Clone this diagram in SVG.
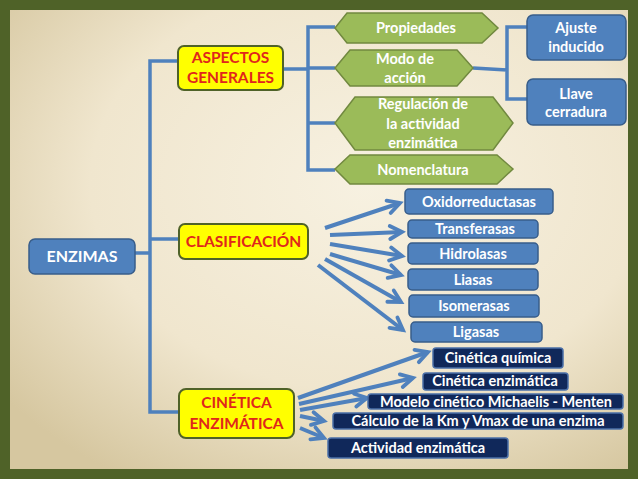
<svg xmlns="http://www.w3.org/2000/svg" width="638" height="479" viewBox="0 0 638 479">
<defs>
<radialGradient id="bg" cx="0.58" cy="0.38" r="0.75">
<stop offset="0" stop-color="#f7f1e1"/>
<stop offset="0.6" stop-color="#f0e6ce"/>
<stop offset="1" stop-color="#d6c7a0"/>
</radialGradient>
<marker id="ah" viewBox="0 0 16 16" refX="13" refY="8" markerWidth="16" markerHeight="16" markerUnits="userSpaceOnUse" orient="auto" overflow="visible">
<path d="M1,1.5 L13,8 L1,14.5" fill="none" stroke="#4f81bd" stroke-width="3.8" stroke-linecap="round" stroke-linejoin="miter"/>
</marker>
<style>
text{font-family:Lato,"Open Sans","Liberation Sans",sans-serif;font-weight:bold;text-anchor:middle}
.yb{fill:#ffff00;stroke:#4f6228;stroke-width:2}
.yt{fill:#e0261c;font-size:15.5px}
.hx{fill:#9bbb59;stroke:#71893f;stroke-width:1.5}
.wt{fill:#ffffff;font-size:14.5px}
.bb{fill:#4f81bd;stroke:#385d8a;stroke-width:1.5}
.nb{fill:#10285a;stroke:#4a6fa8;stroke-width:1.5}
.cn{fill:none;stroke:#4f81bd;stroke-width:3.5}
.ar{fill:none;stroke:#4f81bd;stroke-width:4;marker-end:url(#ah)}
</style>
</defs>
<rect x="0" y="0" width="638" height="479" fill="#4f6228"/>
<rect x="10" y="10" width="618" height="459" fill="url(#bg)"/>

<g id="connectors">
<path class="cn" d="M135,253 H150 M178,61 H150 V412 H179 M150,239 H179"/>
<path class="cn" d="M283,69 H308 M335,27 H308 V170 H335 M308,68 H335 M308,123 H335"/>
<path class="cn" d="M473,68 L507,70 M527,27 H507 V99 H527"/>
<line class="ar" x1="325" y1="228" x2="400" y2="203"/>
<line class="ar" x1="330" y1="235" x2="402" y2="232"/>
<line class="ar" x1="330" y1="244" x2="402" y2="256"/>
<line class="ar" x1="330" y1="254" x2="401" y2="275"/>
<line class="ar" x1="325" y1="259" x2="401" y2="302"/>
<line class="ar" x1="318" y1="265" x2="403" y2="330"/>
<line class="ar" x1="298" y1="398" x2="428" y2="352"/>
<line class="ar" x1="299" y1="404" x2="413" y2="378"/>
<line class="ar" x1="300" y1="410" x2="367" y2="398"/>
<line class="ar" x1="300" y1="416" x2="324" y2="421"/>
<line class="ar" x1="300" y1="428" x2="324" y2="438"/>
</g>

<g id="enzimas">
<rect class="bb" x="29" y="239" width="106" height="35" rx="6"/>
<text class="wt" x="82" y="262" style="font-size:16px">ENZIMAS</text>
</g>

<g id="aspectos">
<rect class="yb" x="178" y="46" width="105" height="44" rx="6"/>
<text class="yt" x="230.5" y="63">ASPECTOS</text>
<text class="yt" x="230.5" y="83">GENERALES</text>
</g>
<g id="clasificacion">
<rect class="yb" x="179" y="224" width="129" height="35" rx="6"/>
<text class="yt" x="243.5" y="247">CLASIFICACIÓN</text>
</g>
<g id="cinetica">
<rect class="yb" x="179" y="389" width="115" height="49" rx="7"/>
<text class="yt" x="236.5" y="408">CINÉTICA</text>
<text class="yt" x="236.5" y="429">ENZIMÁTICA</text>
</g>

<g id="propiedades">
<polygon class="hx" points="335,28 347,13 482,13 498,28 482,43 347,43"/>
<text class="wt" x="416" y="33">Propiedades</text>
</g>
<g id="modo">
<polygon class="hx" points="335,68 350,50 457,50 473,68 457,86 350,86"/>
<text class="wt" x="405" y="64">Modo de</text>
<text class="wt" x="405" y="83">acción</text>
</g>
<g id="regulacion">
<polygon class="hx" points="335,123 355,97 493,97 513,123 493,150 355,150"/>
<text class="wt" x="423" y="109">Regulación de</text>
<text class="wt" x="423" y="129">la actividad</text>
<text class="wt" x="423" y="148">enzimática</text>
</g>
<g id="nomenclatura">
<polygon class="hx" points="335,169 350,155 497,155 513,169 497,184 350,184"/>
<text class="wt" x="423" y="175">Nomenclatura</text>
</g>

<g id="ajuste">
<rect class="bb" x="527" y="15" width="99" height="45" rx="6"/>
<text class="wt" x="576" y="33">Ajuste</text>
<text class="wt" x="576" y="52">inducido</text>
</g>
<g id="llave">
<rect class="bb" x="527" y="79" width="99" height="46" rx="6"/>
<text class="wt" x="576" y="99">Llave</text>
<text class="wt" x="576" y="117">cerradura</text>
</g>

<g id="oxidorreductasas">
<rect class="bb" x="405" y="189" width="148" height="25" rx="4"/>
<text class="wt" x="479" y="207">Oxidorreductasas</text>
</g>
<g id="transferasas">
<rect class="bb" x="408" y="220" width="130" height="18" rx="4"/>
<text class="wt" x="475" y="234">Transferasas</text>
</g>
<g id="hidrolasas">
<rect class="bb" x="408" y="243" width="130" height="21" rx="4"/>
<text class="wt" x="473" y="259">Hidrolasas</text>
</g>
<g id="liasas">
<rect class="bb" x="408" y="269" width="130" height="21" rx="4"/>
<text class="wt" x="473" y="285">Liasas</text>
</g>
<g id="isomerasas">
<rect class="bb" x="409" y="295" width="130" height="22" rx="4"/>
<text class="wt" x="474" y="311">Isomerasas</text>
</g>
<g id="ligasas">
<rect class="bb" x="411" y="322" width="131" height="20" rx="4"/>
<text class="wt" x="476" y="337">Ligasas</text>
</g>

<g id="cinetica-quimica">
<rect class="nb" x="433" y="348" width="130" height="20" rx="3"/>
<text class="wt" x="498" y="363">Cinética química</text>
</g>
<g id="cinetica-enzimatica">
<rect class="nb" x="423" y="373" width="145" height="17" rx="3"/>
<text class="wt" x="495" y="386">Cinética enzimática</text>
</g>
<g id="michaelis">
<rect class="nb" x="368" y="394" width="255" height="15" rx="3"/>
<text class="wt" x="496" y="407">Modelo cinético Michaelis - Menten</text>
</g>
<g id="calculo">
<rect class="nb" x="333" y="413" width="290" height="16" rx="3"/>
<text class="wt" x="478" y="426">Cálculo de la Km y Vmax de una enzima</text>
</g>
<g id="actividad">
<rect class="nb" x="328" y="438" width="180" height="20" rx="3"/>
<text class="wt" x="418" y="453">Actividad enzimática</text>
</g>
</svg>
